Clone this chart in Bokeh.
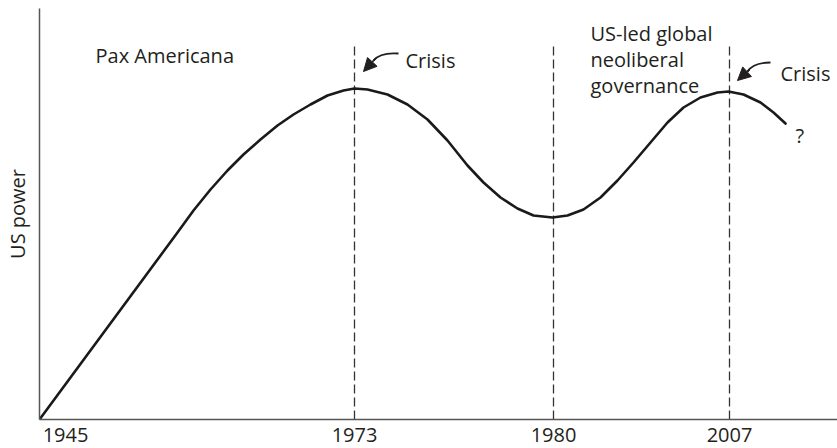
from bokeh.plotting import figure
from bokeh.models import Range1d, FixedTicker, Arrow, NormalHead
from bokeh.core.properties import value
from bokeh.embed import file_html
from bokeh.resources import INLINE

# schematic time axis (x) and US power (y)
curve_x = [0, 138, 154, 171, 188, 204, 221, 238, 254, 271, 288, 304, 315, 328,
           348, 368, 388, 408, 428, 444, 461, 478, 494, 513, 528, 544, 561, 578,
           594, 611, 628, 644, 661, 678, 689, 704, 721, 734, 746]
curve_y = [0, 187, 209, 230, 249, 265, 280, 294, 305, 315, 324, 329, 331, 330,
           325, 315, 300, 279, 254, 237, 222, 211, 204, 202, 204, 210, 222, 239,
           257, 277, 297, 312, 322, 327, 328, 325, 317, 307, 296]

years = ["1945", "1973", "1980", "2007"]
year_ticks = [26, 315, 514, 690]
crisis_x = [315, 514, 690]
crisis_top = 375

texts = ["Pax Americana", "Crisis", "US-led global", "neoliberal", "governance", "Crisis", "?"]
text_x = [56, 366, 551, 551, 551, 741, 756]
text_y = [364, 359, 386, 360, 334, 346, 284]

INK = "#231f20"
FONT = "Open Sans"

p = figure(width=837, height=448, x_range=Range1d(0, 798), y_range=Range1d(0, 411),
           output_backend="svg", toolbar_location=None,
           min_border_left=39, min_border_right=0, min_border_top=8, min_border_bottom=29)
p.outline_line_color = None
p.xgrid.visible = False
p.ygrid.visible = False
p.background_fill_color = "white"

# x axis
p.xaxis.ticker = FixedTicker(ticks=year_ticks)
p.xaxis.major_label_overrides = {t: y for t, y in zip(year_ticks, years)}
p.xaxis.major_tick_line_color = None
p.xaxis.minor_tick_line_color = None
p.xaxis.axis_line_color = "#555555"
p.xaxis.axis_line_width = 1.5
p.xaxis.major_label_text_font = FONT
p.xaxis.major_label_text_font_size = "20px"
p.xaxis.major_label_text_color = INK
p.xaxis.major_label_standoff = 2

# y axis
p.yaxis.ticker = FixedTicker(ticks=[])
p.yaxis.major_tick_line_color = None
p.yaxis.minor_tick_line_color = None
p.yaxis.axis_line_color = "#555555"
p.yaxis.axis_line_width = 1.5
p.yaxis.axis_label = "US power"
p.yaxis.axis_label_text_font = FONT
p.yaxis.axis_label_text_font_style = "normal"
p.yaxis.axis_label_text_font_size = "20px"
p.yaxis.axis_label_text_color = INK
p.yaxis.axis_label_standoff = 9

# dashed crisis lines
p.segment(x0=crisis_x, y0=[0] * len(crisis_x), x1=crisis_x, y1=[crisis_top] * len(crisis_x),
          line_color="#333333", line_width=1.3, line_dash="9 4")

# main curve
p.line(curve_x, curve_y, line_color="#1a1a1a", line_width=2.6, line_join="round", line_cap="round")

# texts
p.text(x=text_x, y=text_y, text=texts, text_font=value(FONT), text_font_size="20px",
       text_color=INK, text_baseline="alphabetic", text_align="left")

# curved arrow bodies
p.bezier(x0=[359, 731], y0=[366, 357], x1=[334, 708], y1=[359, 348],
         cx0=[346, 718], cy0=[367, 357], cx1=[338, 712], cy1=[364, 354],
         line_color=INK, line_width=1.8)
# arrow heads
for xs, ys, xe, ye in [(336, 361, 324, 348), (710, 350, 698, 339)]:
    p.add_layout(Arrow(end=NormalHead(size=13, fill_color=INK, line_color=INK, line_width=1),
                       x_start=xs, y_start=ys, x_end=xe, y_end=ye,
                       line_color=INK, line_width=1.8))

open("out.html", "w").write(file_html(p, INLINE))
